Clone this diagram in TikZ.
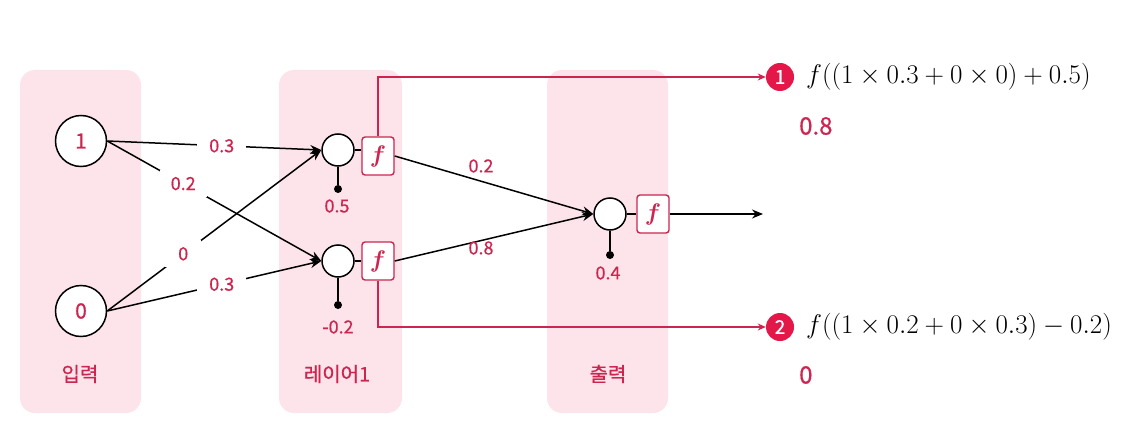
\documentclass[tikz,border=0pt]{standalone}
\usepackage{fix-cm}
\usepackage{fontspec}
\newfontfamily\kr{Noto Sans CJK KR}[AutoFakeBold=0.6]
\usetikzlibrary{arrows.meta}
\definecolor{rd}{RGB}{204,38,80}
\definecolor{pk}{RGB}{252,228,234}
\definecolor{badge}{RGB}{228,24,72}
\begin{document}
\begin{tikzpicture}[x=1pt,y=-1pt,
 panel/.style={fill=pk, rounded corners=15pt},
 inp/.style={circle, draw, line width=1.5pt, minimum size=51pt, inner sep=0pt, fill=white, text=rd, font=\kr\bfseries\fontsize{21}{21}\selectfont},
 neu/.style={circle, draw, line width=1.5pt, minimum size=32pt, inner sep=0pt, fill=white},
 fbox/.style={draw=rd, line width=1.4pt, rounded corners=3pt, minimum width=32pt, minimum height=38pt, inner sep=0pt, fill=white, text=rd, font=\boldmath\fontsize{24}{24}\selectfont},
 wl/.style={fill=white, text=rd, font=\kr\bfseries\fontsize{18}{18}\selectfont},
 lab/.style={text=rd, font=\kr\bfseries\fontsize{18}{18}\selectfont, inner sep=1pt},
 ptitle/.style={text=rd, font=\kr\bfseries\fontsize{20}{20}\selectfont},
 con/.style={line width=1.5pt, -{Stealth[length=11pt,width=9pt]}},
 plainline/.style={line width=1.5pt},
 dotc/.style={circle, fill=black, minimum size=8pt, inner sep=0pt},
 rline/.style={draw=rd, line width=1.3pt, -{Stealth[length=8pt,width=7pt]}},
 badgec/.style={circle, fill=badge, text=white, minimum size=28pt, inner sep=0pt, font=\kr\bfseries\fontsize{19}{19}\selectfont},
 formula/.style={anchor=west, inner sep=0pt, font=\fontsize{27}{27}\selectfont},
 result/.style={anchor=west, inner sep=0pt, text=rd, font=\kr\bfseries\fontsize{24}{24}\selectfont},
]
\useasboundingbox (0,0) rectangle (1131,441);
\fill[white] (0,0) rectangle (1131,441);

% panels
\fill[panel] (20,70) rectangle (141,413);
\fill[panel] (279,70) rectangle (402,413);
\fill[panel] (547,70) rectangle (668,413);
\node[ptitle] (t1) at (80,374) {입력};
\node[ptitle] (t2) at (337,374) {레이어1};
\node[ptitle] (t3) at (608,374) {출력};

% input nodes
\node[inp] (i1) at (81,141) {1};
\node[inp] (i0) at (81,311) {0};

% layer 1
\node[neu] (l1) at (338,150) {};
\node[neu] (l2) at (338,261) {};
\node[fbox] (f1) at (378,156) {$f$};
\node[fbox] (f2) at (378,261) {$f$};
\draw[plainline] (l1.east) -- (l1.east -| f1.west);
\draw[plainline] (l2) -- (f2);
\node[dotc] (b1) at (338,189) {};
\node[dotc] (b2) at (338,305) {};
\draw[plainline] (l1) -- (b1);
\draw[plainline] (l2) -- (b2);
\node[lab] (bl1) at (337,206) {0.5};
\node[lab] (bl2) at (338,327) {-0.2};

% output
\node[neu] (o) at (610,214) {};
\node[fbox] (fo) at (653,214) {$f$};
\draw[plainline] (o) -- (fo);
\node[dotc] (bo) at (610,255) {};
\draw[plainline] (o) -- (bo);
\node[lab] (blo) at (608,273) {0.4};
\coordinate (end) at (763,214);
\draw[con] (fo) -- (end);

% input -> layer1
\draw[con] (i1.east) -- node[wl, pos=0.535, inner xsep=12pt, inner ysep=3pt] (w11) {0.3} (l1.west);
\draw[con] (i1.east) -- node[wl, pos=0.355, inner xsep=11pt, inner ysep=7pt] (w12) {0.2} (l2.west);
\draw[con] (i0.east) -- node[wl, pos=0.355, inner xsep=13pt, inner ysep=7pt] (w01) {0} (l1.west);
\draw[con] (i0.east) -- node[wl, pos=0.535, inner xsep=12pt, inner ysep=3pt] (w02) {0.3} (l2.west);

% layer1 -> output
\draw[con] (f1.east) -- (o.west);
\draw[con] (f2.east) -- (o.west);
\node[lab] (w1o) at (481,166) {0.2};
\node[lab] (w2o) at (481,248) {0.8};

% badges and formulas
\node[badgec] (n1) at (780,77) {1};
\node[badgec] (n2) at (780,327) {2};
\draw[rline] (f1.north) |- (n1.west);
\draw[rline] (f2.south) |- (n2.west);
\node[formula] (e1) at (806,77) {$f((1\times0.3+0\times0)+0.5)$};
\node[formula] (e2) at (806,327) {$f((1\times0.2+0\times0.3)-0.2)$};
\node[result] (r1) at (799,126) {0.8};
\node[result] (r2) at (799,375) {0};
\end{tikzpicture}
\end{document}
